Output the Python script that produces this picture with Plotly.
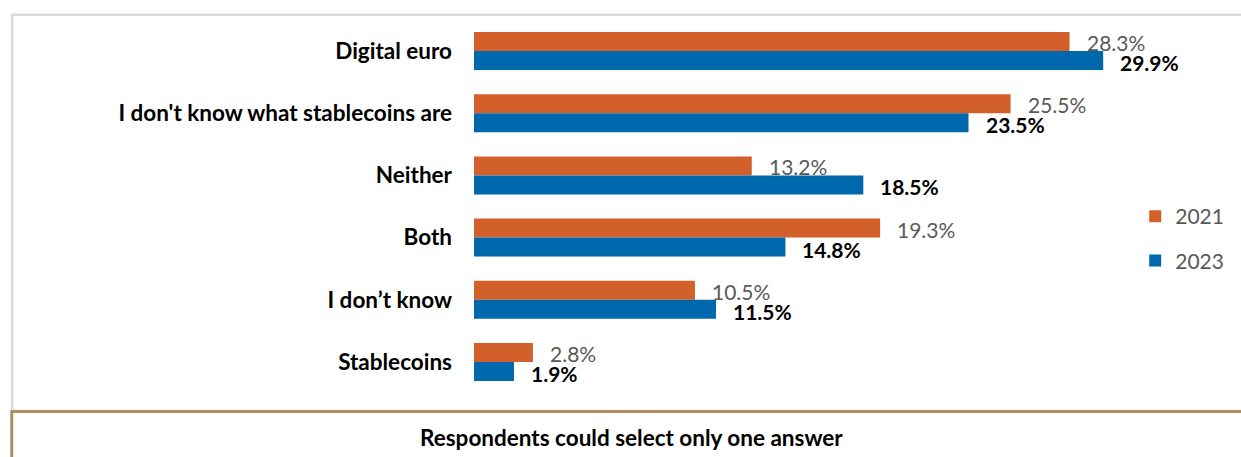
import plotly.graph_objects as go

categories = ["Digital euro", "I don't know what stablecoins are", "Neither",
              "Both", "I don\u2019t know", "Stablecoins"]
values_2021 = [28.3, 25.5, 13.2, 19.3, 10.5, 2.8]
values_2023 = [29.9, 23.5, 18.5, 14.8, 11.5, 1.9]
note_text = "Respondents could select only one answer"

ORANGE = "#D35F2A"
BLUE = "#0068AD"
FONT = "Lato"

W, H = 1241, 457
L, R, T, B = 474, 32, 20, 64
PW, PH = W - L - R, H - T - B
PX_PER_PCT = 21.1


def px_x(px):
    return (px - L) / PW


def px_y(py):
    return (H - B - py) / PH


fig = go.Figure()
fig.add_trace(go.Bar(y=categories, x=values_2021, name="2021", orientation="h",
                     marker=dict(color=ORANGE, line=dict(width=0)),
                     legendgroup="a", hoverinfo="skip"))
fig.add_trace(go.Bar(y=categories, x=values_2023, name="2023", orientation="h",
                     marker=dict(color=BLUE, line=dict(width=0)),
                     legendgroup="b", hoverinfo="skip"))

bargap = 0.39
half = (1 - bargap) / 4
annotations = []
for i, (a, b) in enumerate(zip(values_2021, values_2023)):
    annotations.append(dict(x=a, y=i - half, xref="x", yref="y", text=f"{a:.1f}%",
                            showarrow=False, xanchor="left", xshift=15, yshift=-1,
                            font=dict(family=FONT, size=21, color="#595959")))
    annotations.append(dict(x=b, y=i + half, xref="x", yref="y", text=f"<b>{b:.1f}%</b>",
                            showarrow=False, xanchor="left", xshift=15, yshift=-2,
                            font=dict(family=FONT, size=21, color="#000000")))
annotations.append(dict(x=px_x(632), y=px_y(437), xref="paper", yref="paper",
                        text=f"<b>{note_text}</b>", showarrow=False,
                        xanchor="center", yanchor="middle",
                        font=dict(family=FONT, size=22.5, color="#000000")))

shapes = [
    dict(type="rect", xref="paper", yref="paper",
         x0=px_x(11), x1=px_x(1260), y0=px_y(411), y1=px_y(14.7),
         line=dict(color="#D9D9D9", width=2.5), layer="below"),
    dict(type="rect", xref="paper", yref="paper",
         x0=px_x(10.5), x1=px_x(1260), y0=px_y(480), y1=px_y(411.5),
         line=dict(color="#B08D65", width=3), layer="below"),
]

fig.update_layout(
    width=W, height=H,
    margin=dict(l=L, r=R, t=T, b=B),
    paper_bgcolor="white", plot_bgcolor="white",
    barmode="group", bargap=bargap, bargroupgap=0,
    xaxis=dict(range=[0, PW / PX_PER_PCT], visible=False, fixedrange=True),
    yaxis=dict(autorange="reversed", showgrid=False, showline=False, zeroline=False,
               ticks="", ticklabelstandoff=21,
               tickfont=dict(family=FONT, size=22.5, color="#000000", weight="bold")),
    legend=dict(x=px_x(1137), y=px_y(196), xanchor="left", yanchor="top",
                font=dict(family=FONT, size=21, color="#595959"),
                tracegroupgap=14, bgcolor="rgba(0,0,0,0)"),
    annotations=annotations,
    shapes=shapes,
    showlegend=True,
)

fig.write_html("out.html")
